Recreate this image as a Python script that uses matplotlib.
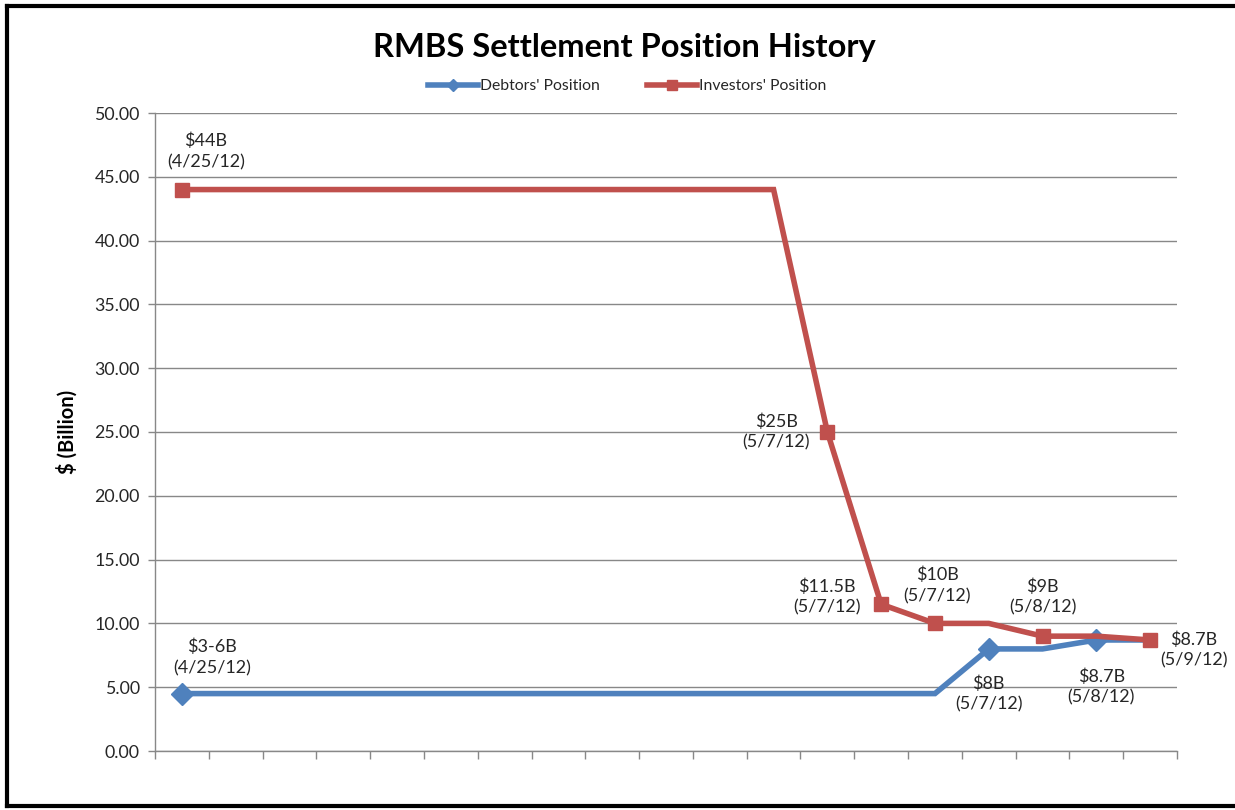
import numpy as np
import matplotlib
matplotlib.use("Agg")
import matplotlib.pyplot as plt
from matplotlib.lines import Line2D

plt.rcParams['font.family'] = ['Lato', 'DejaVu Sans']

# category positions (19 unlabeled slots on the x axis)
categories = list(range(19))

debtors = [4.5] * 15 + [8.0, 8.0, 8.7, 8.7]
investors = [44.0] * 12 + [25.0, 11.5, 10.0, 10.0, 9.0, 9.0, 8.7]

debtor_marks = [0, 15, 17]
investor_marks = [0, 12, 13, 14, 16, 18]

# (series, index, text, x offset px, y offset px)
labels = [
    ("inv", 0, "$44B\n(4/25/12)", 24, 38),
    ("deb", 0, "$3-6B\n(4/25/12)", 30, 36),
    ("inv", 12, "$25B\n(5/7/12)", -51, 0),
    ("inv", 13, "$11.5B\n(5/7/12)", -54, 7),
    ("inv", 14, "$10B\n(5/7/12)", 2, 38),
    ("inv", 16, "$9B\n(5/8/12)", 0, 39),
    ("inv", 18, "$8.7B\n(5/9/12)", 44, -10),
    ("deb", 15, "$8B\n(5/7/12)", 0, -45),
    ("deb", 17, "$8.7B\n(5/8/12)", 5, -47),
]

blue = "#4F81BD"
red = "#C0504D"
grid_c = "#888888"
txt_c = "#262626"

fig = plt.figure(figsize=(12.35, 8.1), dpi=100)
ax = fig.add_axes([155 / 1235, 1 - 751 / 810, (1177 - 155) / 1235, (751 - 113) / 810])

ax.plot(categories, debtors, color=blue, lw=4, marker="D", markersize=11,
        markevery=debtor_marks, solid_joinstyle="miter", zorder=3)
ax.plot(categories, investors, color=red, lw=4, marker="s", markersize=9.5,
        markevery=investor_marks, solid_joinstyle="miter", zorder=3)

for ser, i, txt, dx, dy in labels:
    y = investors[i] if ser == "inv" else debtors[i]
    ax.annotate(txt, xy=(categories[i], y), xytext=(dx, dy), textcoords="offset pixels",
                ha="center", va="center", fontsize=13, color=txt_c, linespacing=1.35)

ax.set_xlim(-0.5, 18.5)
ax.set_ylim(0, 50)
ax.set_xticks(np.arange(-0.5, 19, 1))
ax.set_xticklabels([])
ax.set_yticks(np.arange(0, 50.1, 5))
ax.set_yticklabels(["%.2f" % v for v in np.arange(0, 50.1, 5)], fontsize=12.8, color=txt_c)
ax.tick_params(axis="x", length=6, color=grid_c, width=1)
ax.tick_params(axis="y", length=5, color=grid_c, width=1, pad=6)
ax.grid(axis="y", color=grid_c, lw=1)
ax.set_axisbelow(True)
for s in ["top", "right"]:
    ax.spines[s].set_visible(False)
for s in ["left", "bottom"]:
    ax.spines[s].set_color(grid_c)
    ax.spines[s].set_linewidth(1)

ax.set_ylabel("$ (Billion)", fontsize=14.5, fontweight="bold", labelpad=12, color="black")

fig.text(624 / 1235, 1 - 47 / 810, "RMBS Settlement Position History", ha="center", va="center",
         fontsize=23.5, fontweight="bold")

handles = [
    Line2D([0], [0], color=blue, lw=4, marker="D", markersize=6),
    Line2D([0], [0], color=red, lw=4, marker="s", markersize=7),
]
fig.legend(handles, ["Debtors' Position", "Investors' Position"], loc="center",
           bbox_to_anchor=(627 / 1235, 1 - 86 / 810), ncol=2, frameon=False, fontsize=11.3,
           handlelength=3.2, handletextpad=0.1, columnspacing=3.0, labelcolor=txt_c)

# outer border
fig.add_artist(Line2D([7 / 1235, 7 / 1235], [1 - 806 / 810, 1 - 6 / 810], color="black", lw=3))
fig.add_artist(Line2D([7 / 1235, 1], [1 - 6 / 810, 1 - 6 / 810], color="black", lw=3))
fig.add_artist(Line2D([7 / 1235, 1], [1 - 806 / 810, 1 - 806 / 810], color="black", lw=3))

fig.savefig("out.png", dpi=100)
